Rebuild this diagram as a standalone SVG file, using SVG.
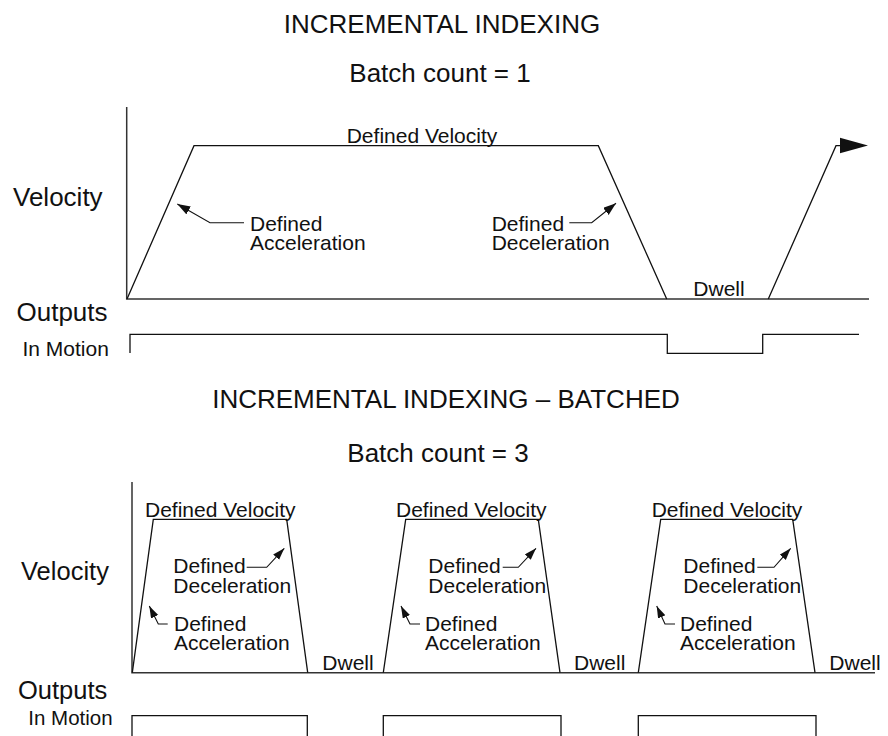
<svg xmlns="http://www.w3.org/2000/svg" width="888" height="736" viewBox="0 0 888 736">
<style>
text{font-family:"Liberation Sans",Arial,sans-serif;fill:#111}
.big{font-size:26px}
.lab{font-size:21px}
.ln{fill:none;stroke:#111;stroke-width:1.3}
.ax{fill:none;stroke:#333;stroke-width:1.5}
.ld{fill:none;stroke:#111;stroke-width:1.1}
</style>
<defs>
<marker id="ah" markerUnits="userSpaceOnUse" markerWidth="14" markerHeight="10" refX="13" refY="4.5" orient="auto">
<path d="M0,0 L13,4.5 L0,9 z" fill="#111"/>
</marker>
<marker id="ahs" markerUnits="userSpaceOnUse" markerWidth="13" markerHeight="9" refX="12" refY="4" orient="auto">
<path d="M0,0 L12,4 L0,8 z" fill="#111"/>
</marker>
</defs>
<rect width="888" height="736" fill="#fff"/>

<g id="top-section">
<text class="big" x="442" y="33" text-anchor="middle">INCREMENTAL INDEXING</text>
<text class="big" x="440" y="82" text-anchor="middle">Batch count = 1</text>
<text class="big" x="13" y="206">Velocity</text>
<text class="big" x="16.5" y="321">Outputs</text>
<text class="lab" x="22.5" y="356">In Motion</text>
</g>

<g id="top-axes">
<polyline class="ax" points="126.7,107 126.7,299 869,299"/>
</g>

<g id="top-profile">
<polyline class="ln" points="127,299 194,145.7 598.3,145.7 666.7,299"/>
<polyline class="ln" points="768.3,299 836,145.7 842,145.7"/>
<polygon points="840,137.7 868,145.5 840,153.3" fill="#111"/>
<text class="lab" x="422" y="143" text-anchor="middle">Defined Velocity</text>
<text class="lab" x="250" y="230.5">Defined</text>
<text class="lab" x="250" y="250">Acceleration</text>
<text class="lab" x="491.7" y="230.5">Defined</text>
<text class="lab" x="491.7" y="250">Deceleration</text>
<text class="lab" x="693.3" y="296">Dwell</text>
</g>

<g id="top-output">
<polyline class="ln" points="130,353 130,334.3 667.3,334.3 667.3,353.3 762.7,353.3 762.7,334.3 859,334.3"/>
</g>

<g id="bottom-section">
<text class="big" x="446" y="408" text-anchor="middle">INCREMENTAL INDEXING – BATCHED</text>
<text class="big" x="438" y="462" text-anchor="middle">Batch count = 3</text>
<text style="font-size:25.5px" x="21" y="580">Velocity</text>
<text style="font-size:25.5px" x="18" y="699">Outputs</text>
<text style="font-size:20.5px" x="28.3" y="725">In Motion</text>
</g>

<g id="bottom-axes">
<polyline class="ax" points="132,482 132,672.7 875,672.7"/>
</g>

<g id="batch-1">
<polyline class="ln" points="132.3,672.7 153.3,519.3 286.7,519.3 307.7,672.7"/>
<text class="lab" x="145" y="516.5">Defined Velocity</text>
<text class="lab" x="173.3" y="573">Defined</text>
<text class="lab" x="173.3" y="592.7">Deceleration</text>
<text class="lab" x="174" y="630.7">Defined</text>
<text class="lab" x="174" y="650">Acceleration</text>
<text class="lab" x="322.3" y="670">Dwell</text>
<polyline class="ln" points="132,736 132,715.7 307.3,715.7 307.3,736"/>
</g>

<g id="batch-2">
<polyline class="ln" points="383.3,672.7 405.7,519.3 538.3,519.3 560,672.7"/>
<text class="lab" x="396" y="516.5">Defined Velocity</text>
<text class="lab" x="428.3" y="573">Defined</text>
<text class="lab" x="428.3" y="592.7">Deceleration</text>
<text class="lab" x="425" y="630.7">Defined</text>
<text class="lab" x="425" y="650">Acceleration</text>
<text class="lab" x="574" y="670">Dwell</text>
<polyline class="ln" points="383.3,736 383.3,715.7 561,715.7 561,736"/>
</g>

<g id="batch-3">
<polyline class="ln" points="638.3,672.7 660.7,519.3 792.7,519.3 815,672.7"/>
<text class="lab" x="651.7" y="516.5">Defined Velocity</text>
<text class="lab" x="683.3" y="573">Defined</text>
<text class="lab" x="683.3" y="592.7">Deceleration</text>
<text class="lab" x="680" y="630.7">Defined</text>
<text class="lab" x="680" y="650">Acceleration</text>
<text class="lab" x="829.3" y="670">Dwell</text>
<polyline class="ln" points="638.3,736 638.3,715.7 816,715.7 816,736"/>
</g>

<g id="connectors">
<polyline class="ld" points="244,222.7 210,222.7 177.3,204" marker-end="url(#ah)"/>
<polyline class="ld" points="569.3,222.7 591.7,222.7 616,203.3" marker-end="url(#ah)"/>
<polyline class="ld" points="246.7,567.3 266.7,567.3 284.3,548.3" marker-end="url(#ahs)"/>
<polyline class="ld" points="167.7,624 158.3,624 149.3,606" marker-end="url(#ahs)"/>
<polyline class="ld" points="502.7,567.3 518.3,567.3 536,548.3" marker-end="url(#ahs)"/>
<polyline class="ld" points="420,624 410,624 401,606" marker-end="url(#ahs)"/>
<polyline class="ld" points="757.3,567.3 774,567.3 790.7,548.3" marker-end="url(#ahs)"/>
<polyline class="ld" points="675,624 665,624 656.7,606" marker-end="url(#ahs)"/>
</g>
</svg>
